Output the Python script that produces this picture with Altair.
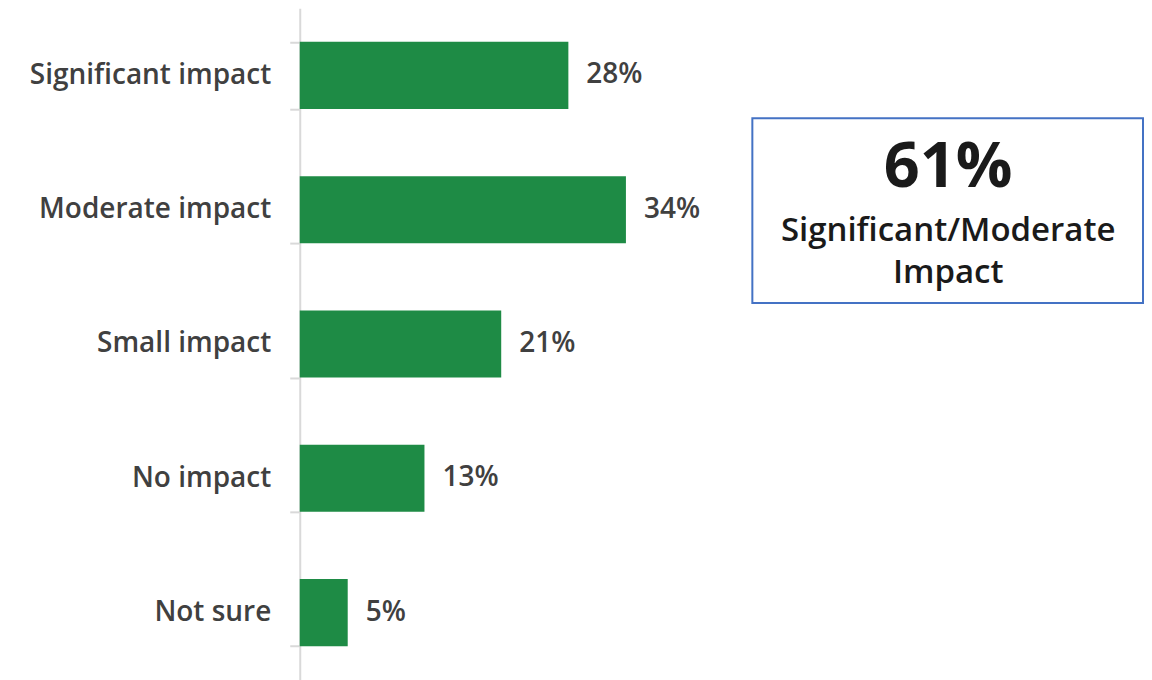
import altair as alt
import pandas as pd

categories = ["Significant impact", "Moderate impact", "Small impact", "No impact", "Not sure"]
values = [28, 34, 21, 13, 5]
value_labels = ["28%", "34%", "21%", "13%", "5%"]

box_value = "61%"
box_lines = ["Significant/Moderate", "Impact"]

df = pd.DataFrame({"category": categories, "pct": values, "label": value_labels})

FONT = "Open Sans"
TEXT = "#404040"
GREEN = "#1e8b45"

y_enc = alt.Y(
    "category:N",
    sort=categories,
    title=None,
    scale=alt.Scale(paddingInner=0.5, paddingOuter=0.25),
    axis=alt.Axis(
        domainColor="#d9d9d9",
        domainWidth=2,
        tickColor="#d9d9d9",
        tickWidth=2,
        tickSize=10,
        tickBand="extent",
        labelPadding=19,
        labelFont=FONT,
        labelFontSize=28,
        labelFontWeight=600,
        labelColor=TEXT,
        labelLimit=400,
    ),
)
x_enc = alt.X("pct:Q", axis=None, scale=alt.Scale(domain=[0, 88], nice=False, zero=True))

bars = alt.Chart(df).mark_bar(color=GREEN).encode(x=x_enc, y=y_enc)

texts = alt.Chart(df).mark_text(
    align="left", baseline="middle", dx=18, font=FONT, fontSize=28, fontWeight=600, color=TEXT
).encode(x=x_enc, y=y_enc, text="label:N")

one = pd.DataFrame({"k": [0]})

box = alt.Chart(one).mark_rect(
    fill="white", stroke="#4472c4", strokeWidth=2
).encode(
    x=alt.value(453), x2=alt.value(844), y=alt.value(110), y2=alt.value(295)
)

big = alt.Chart(one).mark_text(
    align="center", baseline="alphabetic", font=FONT, fontSize=63, fontWeight="bold",
    color="#1a1a1a", text=box_value
).encode(x=alt.value(649), y=alt.value(179))

line_layers = []
for txt, yy in zip(box_lines, [233, 275]):
    line_layers.append(
        alt.Chart(one).mark_text(
            align="center", baseline="alphabetic", font=FONT, fontSize=33, fontWeight=600,
            color="#1a1a1a", text=txt
        ).encode(x=alt.value(649), y=alt.value(yy))
    )

chart = alt.layer(bars, texts, box, big, *line_layers).properties(
    width=845,
    height=672,
    autosize=alt.AutoSizeParams(type="none"),
    padding={"left": 292, "top": 0, "right": 0, "bottom": 0},
).configure_view(stroke=None)

chart.save("out.html", embed_options={"renderer": "svg", "actions": False})
